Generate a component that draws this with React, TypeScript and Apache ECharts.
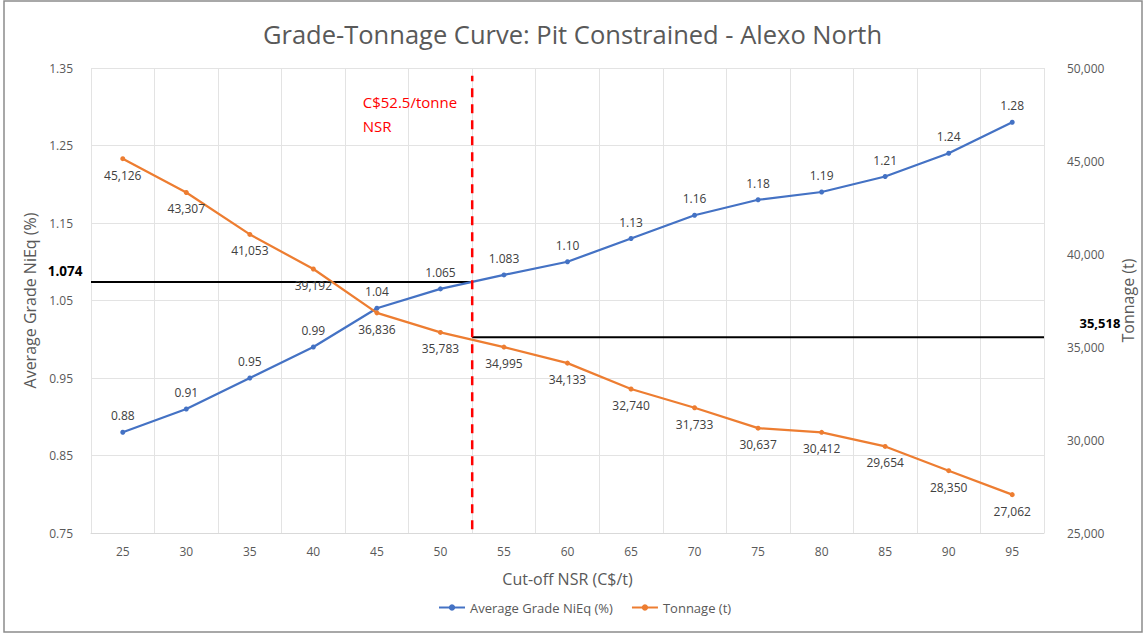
import React, { useEffect, useRef } from "react";
import * as echarts from "echarts";

const cutoffs = ["25", "30", "35", "40", "45", "50", "55", "60", "65", "70", "75", "80", "85", "90", "95"];
const grade = [0.88, 0.91, 0.95, 0.99, 1.04, 1.065, 1.083, 1.10, 1.13, 1.16, 1.18, 1.19, 1.21, 1.24, 1.28];
const tonnage = [45126, 43307, 41053, 39192, 36836, 35783, 34995, 34133, 32740, 31733, 30637, 30412, 29654, 28350, 27062];
const cutoffNSR = 52.5;
const cutoffGrade = 1.074;
const cutoffTonnage = 35518;
const xRange = [22.5, 97.5];
const gradeRange = [0.75, 1.35];
const tonnageRange = [25000, 50000];

const FONT = "'Open Sans', sans-serif";
const GRAY = "#595959";
const CLEAR = "rgba(0,0,0,0)";

function fmtGrade(v: number): string {
  const s = String(v);
  const dec = s.includes(".") ? s.split(".")[1].length : 0;
  return dec < 2 ? v.toFixed(2) : s;
}

export default function App() {
  const ref = useRef<HTMLDivElement>(null);
  useEffect(() => {
    if (!ref.current) return;
    const chart = echarts.init(ref.current, undefined, { renderer: "svg" });
    chart.setOption({
      animation: false,
      textStyle: { fontFamily: FONT },
      title: {
        text: "Grade-Tonnage Curve: Pit Constrained - Alexo North",
        left: "center",
        top: 16,
        textStyle: { fontFamily: FONT, fontSize: 25.5, fontWeight: "normal", color: GRAY },
      },
      legend: {
        bottom: 16,
        left: 433,
        data: ["Average Grade NiEq (%)", "Tonnage (t)"],
        itemWidth: 26,
        itemHeight: 8,
        itemGap: 18,
        textStyle: { fontFamily: FONT, fontSize: 13, color: GRAY },
      },
      grid: { left: 91, right: 101, top: 68, bottom: 102 },
      xAxis: [
        {
          type: "category",
          data: cutoffs,
          boundaryGap: true,
          name: "Cut-off NSR (C$/t)",
          nameLocation: "middle",
          nameGap: 38,
          nameTextStyle: { fontFamily: FONT, fontSize: 16, color: GRAY },
          axisLine: { lineStyle: { color: "#D9D9D9" } },
          axisTick: { show: false },
          axisLabel: { color: GRAY, fontSize: 12, margin: 12, fontFamily: FONT },
          splitLine: { show: true, lineStyle: { color: "#E3E3E3" } },
        },
        {
          type: "value",
          min: xRange[0],
          max: xRange[1],
          show: false,
        },
      ],
      yAxis: [
        {
          type: "value",
          min: gradeRange[0],
          max: gradeRange[1],
          interval: 0.1,
          name: "Average Grade NiEq (%)",
          nameLocation: "middle",
          nameGap: 53,
          nameTextStyle: { fontFamily: FONT, fontSize: 16, color: GRAY },
          axisLine: { show: false },
          axisTick: { show: false },
          axisLabel: { color: GRAY, fontSize: 12, margin: 18, formatter: (v: number) => v.toFixed(2) },
          splitLine: { show: true, lineStyle: { color: "#E3E3E3" } },
        },
        {
          type: "value",
          min: tonnageRange[0],
          max: tonnageRange[1],
          interval: 5000,
          name: "Tonnage (t)",
          nameLocation: "middle",
          nameGap: 76,
          nameRotate: 90,
          nameTextStyle: { fontFamily: FONT, fontSize: 16, color: GRAY },
          axisLine: { show: false },
          axisTick: { show: false },
          axisLabel: {
            color: GRAY,
            fontSize: 12,
            margin: 23,
            formatter: (v: number) => v.toLocaleString("en-US"),
          },
          splitLine: { show: false },
        },
      ],
      series: [
        {
          name: "Average Grade NiEq (%)",
          type: "line",
          xAxisIndex: 0,
          yAxisIndex: 0,
          data: grade,
          color: "#4472C4",
          lineStyle: { width: 2.25, color: "#4472C4" },
          symbol: "circle",
          symbolSize: 5,
          label: {
            show: true,
            position: "top",
            distance: 8,
            color: "#404040",
            fontSize: 12,
            formatter: (p: any) => fmtGrade(p.value),
          },
          z: 3,
        },
        {
          name: "Tonnage (t)",
          type: "line",
          xAxisIndex: 0,
          yAxisIndex: 1,
          data: tonnage,
          color: "#ED7D31",
          lineStyle: { width: 2.25, color: "#ED7D31" },
          symbol: "circle",
          symbolSize: 5,
          label: {
            show: true,
            position: "bottom",
            distance: 8,
            color: "#404040",
            fontSize: 12,
            formatter: (p: any) => Number(p.value).toLocaleString("en-US"),
          },
          z: 3,
        },
        {
          name: "gradeCut",
          type: "line",
          xAxisIndex: 1,
          yAxisIndex: 0,
          data: [
            {
              value: [xRange[0], cutoffGrade],
              label: {
                show: true,
                position: "left",
                offset: [0, -11],
                distance: 8,
                formatter: cutoffGrade.toFixed(3),
                fontWeight: "bold",
                fontSize: 13.5,
                color: "#000",
              },
            },
            { value: [cutoffNSR, cutoffGrade], label: { show: false } },
          ],
          symbol: "circle",
          symbolSize: 1,
          itemStyle: { color: CLEAR },
          lineStyle: { width: 2, color: "#000" },
          z: 2,
          silent: true,
        },
        {
          name: "tonCut",
          type: "line",
          xAxisIndex: 1,
          yAxisIndex: 1,
          data: [
            { value: [cutoffNSR, cutoffTonnage], label: { show: false } },
            {
              value: [xRange[1], cutoffTonnage],
              label: {
                show: true,
                position: "right",
                offset: [30, -14],
                formatter: cutoffTonnage.toLocaleString("en-US"),
                fontWeight: "bold",
                fontSize: 13,
                color: "#000",
              },
            },
          ],
          symbol: "circle",
          symbolSize: 1,
          itemStyle: { color: CLEAR },
          lineStyle: { width: 2, color: "#000" },
          z: 2,
          silent: true,
        },
        {
          name: "nsrCut",
          type: "line",
          xAxisIndex: 1,
          yAxisIndex: 0,
          data: [
            { value: [cutoffNSR, 0.755], label: { show: false } },
            {
              value: [cutoffNSR, 1.34],
              label: {
                show: true,
                position: [-109, 15],
                align: "left",
                verticalAlign: "top",
                formatter: "C$52.5/tonne\nNSR",
                color: "#FF0000",
                fontSize: 15,
                lineHeight: 24,
              },
            },
          ],
          symbol: "circle",
          symbolSize: 1,
          itemStyle: { color: CLEAR },
          lineStyle: { width: 2.5, color: "#FF0000", type: [9, 7] },
          z: 4,
          silent: true,
        },
      ],
      graphic: [
        {
          type: "rect",
          shape: { x: 4, y: 1, width: 1138, height: 631 },
          style: { fill: "none", stroke: "#8C8C8C", lineWidth: 1.5 },
          silent: true,
        },
      ],
    });
    return () => chart.dispose();
  }, []);
  return (
    <div
      ref={ref}
      style={{ position: "absolute", left: 0, top: 0, width: 1145, height: 635, background: "#fff" }}
    />
  );
}
